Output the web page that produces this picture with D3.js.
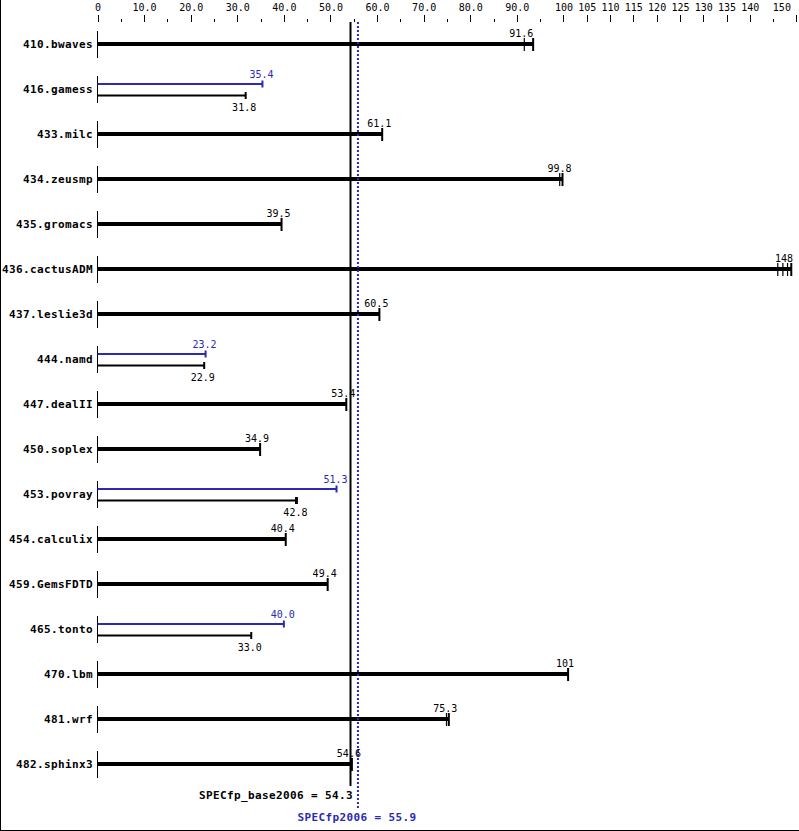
<!DOCTYPE html>
<html><head><meta charset="utf-8">
<script src="https://cdn.jsdelivr.net/npm/d3@7"></script>
<style>body{margin:0;background:#fff}svg{display:block}</style>
</head><body>
<script>
const benchmarks = ["410.bwaves","416.gamess","433.milc","434.zeusmp","435.gromacs","436.cactusADM","437.leslie3d","444.namd","447.dealII","450.soplex","453.povray","454.calculix","459.GemsFDTD","465.tonto","470.lbm","481.wrf","482.sphinx3"];
const baseRatios = [91.6,31.8,61.1,99.8,39.5,148,60.5,22.9,53.4,34.9,42.8,40.4,49.4,33.0,101,75.3,54.6];
const baseLabels = ["91.6","31.8","61.1","99.8","39.5","148","60.5","22.9","53.4","34.9","42.8","40.4","49.4","33.0","101","75.3","54.6"];
const peakRatios = [null,35.4,null,null,null,null,null,23.2,null,null,51.3,null,null,40.0,null,null,null];
const peakLabels = [null,"35.4",null,null,null,null,null,"23.2",null,null,"51.3",null,null,"40.0",null,null,null];
const baseRunTicks = [[91.6,93.5],[31.8],[61.1],[99.2,99.8],[39.5],[146.0,147.1,148.1,148.9],[60.5],[22.9],[53.4],[34.9],[42.6,42.8],[40.4],[49.4],[33.0],[101],[74.9,75.4],[54.4,54.6]];
const majorTicks = [0,10,20,30,40,50,60,70,80,90,100,105,110,115,120,125,130,135,140,150];
const majorTickLabels = ["0","10.0","20.0","30.0","40.0","50.0","60.0","70.0","80.0","90.0","100","105","110","115","120","125","130","135","140","150"];
const minorTicks = [5,15,25,35,45,55,65,75,85,95,145];
const specBaseLabel = "SPECfp_base2006 = 54.3", specBase = 54.3;
const specPeakLabel = "SPECfp2006 = 55.9", specPeak = 55.9;

const W = 799, H = 831;
const BLUE = "#2a2ab4";
const svg = d3.select("body").append("svg").attr("width", W).attr("height", H);
svg.append("rect").attr("width", W).attr("height", H).attr("fill", "#fff");

const x = d3.scaleLinear().domain([0, 150]).range([97.5, 796.4]);
const y = d3.scalePoint().domain(benchmarks).range([44, 764]);

// borders (left, bottom)
svg.append("line").attr("x1", 0.5).attr("x2", 0.5).attr("y1", 0).attr("y2", H).attr("stroke", "#000");
svg.append("line").attr("x1", 0).attr("x2", W).attr("y1", 830.5).attr("y2", 830.5).attr("stroke", "#000");

// top axis
const labelMap = new Map(majorTicks.map((t, i) => [t, majorTickLabels[i]]));
const axMajor = svg.append("g").attr("transform", "translate(0,22)")
  .call(d3.axisTop(x).tickValues(majorTicks).tickSize(7).tickPadding(4).tickFormat(d => labelMap.get(d)));
const axMinor = svg.append("g").attr("transform", "translate(0,22)")
  .call(d3.axisTop(x).tickValues(minorTicks).tickSize(3).tickFormat(""));
[axMajor, axMinor].forEach(g => {
  g.select(".domain").remove();
  g.selectAll("line").attr("stroke", "#000").attr("shape-rendering", "crispEdges");
});
axMajor.selectAll("text").attr("font-family", "DejaVu Sans Mono, monospace").attr("font-size", 10).attr("fill", "#000");
axMajor.selectAll("text").filter(d => d === 150).attr("text-anchor", "end").attr("dx", -6);

const mono = "DejaVu Sans Mono, monospace";
const rows = svg.append("g");
benchmarks.forEach((b, i) => {
  const cy = y(b);
  const g = rows.append("g");
  // row axis segment
  g.append("line").attr("x1", x(0)).attr("x2", x(0)).attr("y1", cy - 13).attr("y2", cy + 14)
    .attr("stroke", "#000").attr("shape-rendering", "crispEdges");
  g.append("text").attr("x", 93).attr("y", cy + 4).attr("text-anchor", "end")
    .attr("font-family", mono).attr("font-weight", "bold").attr("font-size", 11)
    .attr("letter-spacing", 0.38).text(b);
  if (peakRatios[i] == null) {
    const ticks = baseRunTicks[i];
    const mx = d3.max(ticks);
    g.append("rect").attr("x", x(0)).attr("y", cy - 2).attr("width", x(mx) - x(0)).attr("height", 4).attr("fill", "#000");
    ticks.forEach((t, k) => {
      const last = t === mx;
      g.append("line").attr("x1", x(t)).attr("x2", x(t)).attr("y1", cy - 6).attr("y2", cy + 7)
        .attr("stroke", "#000").attr("stroke-width", last ? 2 : 1.2);
    });
    g.append("text").attr("x", x(baseRatios[i]) - 3).attr("y", cy - 7).attr("text-anchor", "middle")
      .attr("font-family", mono).attr("font-size", 10).text(baseLabels[i]);
  } else {
    const py = cy - 5, by = cy + 6.5;
    g.append("line").attr("x1", x(0)).attr("x2", x(peakRatios[i])).attr("y1", py).attr("y2", py)
      .attr("stroke", BLUE).attr("stroke-width", 2);
    g.append("line").attr("x1", x(peakRatios[i])).attr("x2", x(peakRatios[i])).attr("y1", py - 3.5).attr("y2", py + 3.5)
      .attr("stroke", BLUE).attr("stroke-width", 2);
    g.append("text").attr("x", x(peakRatios[i]) - 1).attr("y", cy - 11).attr("text-anchor", "middle")
      .attr("font-family", mono).attr("font-size", 10).attr("fill", BLUE).text(peakLabels[i]);
    const ticks = baseRunTicks[i];
    const mx = d3.max(ticks);
    g.append("line").attr("x1", x(0)).attr("x2", x(mx)).attr("y1", by).attr("y2", by)
      .attr("stroke", "#000").attr("stroke-width", 2);
    ticks.forEach(t => {
      g.append("line").attr("x1", x(t)).attr("x2", x(t)).attr("y1", by - 3.5).attr("y2", by + 3.5)
        .attr("stroke", "#000").attr("stroke-width", 2);
    });
    g.append("text").attr("x", x(baseRatios[i]) - 1.5).attr("y", cy + 22).attr("text-anchor", "middle")
      .attr("font-family", mono).attr("font-size", 10).text(baseLabels[i]);
  }
});

// summary lines
svg.append("line").attr("x1", x(specBase)).attr("x2", x(specBase)).attr("y1", 22).attr("y2", 786)
  .attr("stroke", "#000").attr("stroke-width", 2);
svg.append("line").attr("x1", x(specPeak)).attr("x2", x(specPeak)).attr("y1", 22).attr("y2", 808)
  .attr("stroke", BLUE).attr("stroke-width", 2).attr("stroke-dasharray", "2,2");
svg.append("text").attr("x", x(specBase) + 2.5).attr("y", 799).attr("text-anchor", "end")
  .attr("font-family", mono).attr("font-weight", "bold").attr("font-size", 11).attr("letter-spacing", 0.38)
  .text(specBaseLabel);
svg.append("text").attr("x", 297.5).attr("y", 821).attr("text-anchor", "start")
  .attr("font-family", mono).attr("font-weight", "bold").attr("font-size", 11).attr("letter-spacing", 0.38)
  .attr("fill", BLUE).text(specPeakLabel);
</script>
</body></html>
